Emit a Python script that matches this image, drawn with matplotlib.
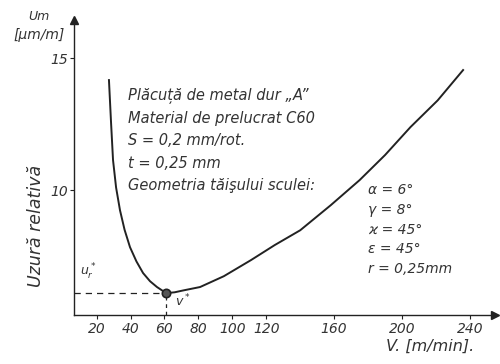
import matplotlib
matplotlib.use("Agg")
import matplotlib.pyplot as plt

# valori
viteza = [27.3, 28.5, 29.7, 31.5, 33.8, 36.5, 39.7, 43.5, 47.4, 51.5, 55.6, 61,
          66, 71, 81, 95, 111, 125, 140, 158, 175, 190, 205, 221, 236]
uzura = [14.17, 12.6, 11.14, 10.1, 9.24, 8.5, 7.84, 7.3, 6.86, 6.55, 6.33, 6.1,
         6.13, 6.2, 6.33, 6.74, 7.35, 7.92, 8.48, 9.43, 10.38, 11.33, 12.39, 13.4, 14.55]
v_opt = 61
u_opt = 6.1
x_ticks = [20, 40, 60, 80, 100, 120, 160, 200, 240]
y_ticks = [10, 15]

text_stanga = ["Plăcuță de metal dur „A”",
               "Material de prelucrat C60",
               "S = 0,2 mm/rot.",
               "t = 0,25 mm",
               "Geometria tăişului sculei:"]
text_dreapta = ["α = 6°", "γ = 8°", "ϰ = 45°", "ε = 45°", "r = 0,25mm"]

ink = "#222222"
fnt = dict(family="DejaVu Sans", style="italic", color="#333333")

fig = plt.figure(figsize=(5.0, 3.64), dpi=100)
ax = fig.add_axes([0.148, 0.1346, 0.842, 0.81])
ax.set_xlim(6.7, 254.8)
ax.set_ylim(5.27, 16.44)

ax.plot(viteza, uzura, color=ink, lw=1.4)
ax.plot([6.7, v_opt], [u_opt, u_opt], color=ink, lw=0.9, dashes=(5, 4))
ax.plot([v_opt, v_opt], [5.27, u_opt], color=ink, lw=0.9, dashes=(3, 3))
ax.plot([v_opt], [u_opt], "o", ms=6, mfc="#555555", mec=ink, mew=1.2)

for s in ["top", "right"]:
    ax.spines[s].set_visible(False)
for s in ["left", "bottom"]:
    ax.spines[s].set_color(ink)
    ax.spines[s].set_linewidth(1.0)
ax.plot(1, 0, ">", color=ink, ms=6, transform=ax.transAxes, clip_on=False)
ax.plot(0, 1, "^", color=ink, ms=6, transform=ax.transAxes, clip_on=False)

ax.set_xticks(x_ticks)
ax.set_xticklabels([str(t) for t in x_ticks], **fnt, fontsize=10)
ax.set_yticks(y_ticks)
ax.set_yticklabels([str(t) for t in y_ticks], **fnt, fontsize=10)
ax.tick_params(axis="x", length=3, width=0.8, color=ink, pad=2)
ax.tick_params(axis="y", length=3, width=0.8, color=ink, pad=1)

ax.text(10, 6.75, r"$u_r^*$", fontsize=9, color="#333333")
ax.text(66, 5.6, r"$v^*$", fontsize=9, color="#333333")

y0 = 0.735
for i, line in enumerate(text_stanga):
    fig.text(0.256, y0 - i * 0.061, line, fontsize=10.5, va="center", **fnt)
for i, line in enumerate(text_dreapta):
    fig.text(0.736, 0.478 - i * 0.054, line, fontsize=10, va="center", **fnt)

fig.text(0.072, 0.38, "Uzură relativă", rotation=90, fontsize=12.5,
         ha="center", va="center", **fnt)
fig.text(0.078, 0.955, "Um", fontsize=9, ha="center", va="center", **fnt)
fig.text(0.078, 0.905, "[μm/m]", fontsize=10, ha="center", va="center", **fnt)
fig.text(0.86, 0.05, "V. [m/min].", fontsize=11.5, ha="center", va="center", **fnt)

fig.savefig("out.png", dpi=100)
